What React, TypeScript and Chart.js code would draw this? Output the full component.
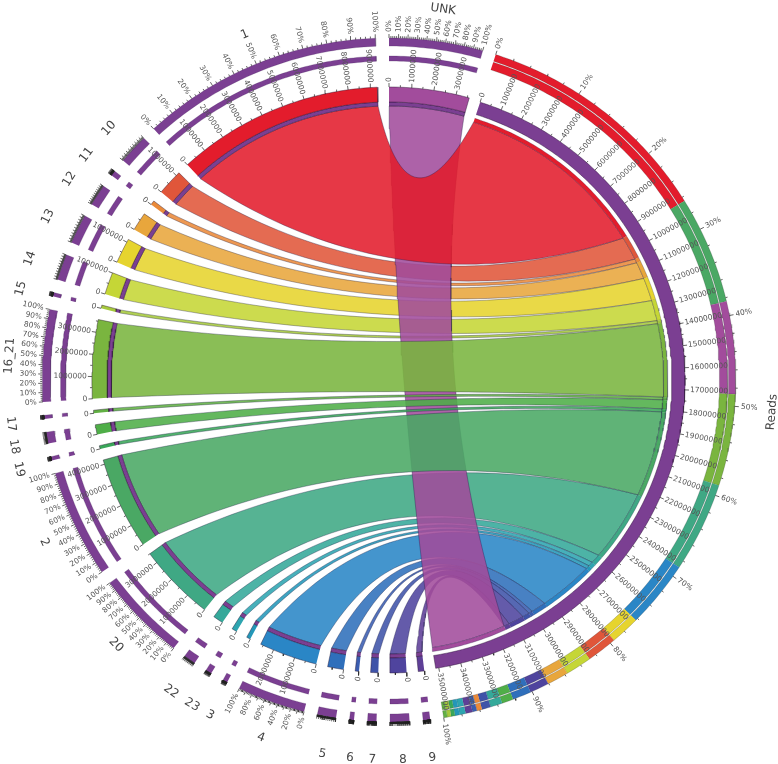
import React, { useEffect, useRef } from "react";
import { Chart, registerables } from "chart.js";

Chart.register(...registerables);

// Sectors clockwise from the top, excluding the big "Reads" sector.
const beforeReads = ["UNK"];
const afterReads = ["9", "8", "7", "6", "5", "4", "3", "23", "22", "20", "2", "19", "18", "17", "16_21", "15", "14", "13", "12", "11", "10", "1"];
const sectorReadCounts: Record<string, number> = {
  UNK: 3600000, "9": 270000, "8": 740000, "7": 340000, "6": 170000, "5": 720000, "4": 2620000,
  "3": 180000, "23": 230000, "22": 460000, "20": 3500000, "2": 4200000, "19": 150000, "18": 440000,
  "17": 140000, "16_21": 3580000, "15": 150000, "14": 1010000, "13": 1140000, "12": 830000,
  "11": 200000, "10": 1170000, "1": 9300000,
};
const sectorColors: Record<string, string> = {
  "1": "#e31c2c", "10": "#e0563a", "11": "#ea8a3a", "12": "#e8a63c", "13": "#e6d42e", "14": "#c5d636",
  "15": "#a5c83c", "16_21": "#7ab53f", "17": "#62b044", "18": "#4fae48", "19": "#3aa659", "2": "#4aa864",
  "20": "#3fa884", "22": "#34a99a", "23": "#2ea5b0", "3": "#2497b8", "4": "#2a86c6", "5": "#2f6fbb",
  "6": "#3a5db0", "7": "#3f53a8", "8": "#4f449e", "9": "#5e3f97", UNK: "#a24c9c",
};
const readsRingOrder = ["1", "2", "UNK", "16_21", "20", "4", "13", "10", "14", "12", "8", "5", "18", "22", "7", "11", "6", "9", "23", "3", "19", "15", "17"];
const ribbonDrawOrder = ["10", "11", "12", "13", "14", "15", "20", "22", "23", "3", "4", "5", "6", "7", "8", "9", "UNK", "17", "18", "19", "1", "16_21", "2"];
const percentLabelSteps: Record<string, number> = { UNK: 10, "1": 10, "16_21": 10, "2": 10, "20": 10, "4": 20, Reads: 10 };

const PURPLE = "#7b3f92";
const GAP = 2.25;
const R = {
  link: 274, linkReads: 271, thinIn: 274, thinOut: 278, bandIn: 278, bandOut: 293,
  ring2In: 319, ring2Out: 324, ring1In: 334, ring1Out: 342,
  rThinOut: 275, rBandIn: 279, rBandOut: 292, rRing2In: 326, rRing2Out: 334, rRing1In: 335, rRing1Out: 342,
  name: 377,
};

type P = { x: number; y: number };
const pt = (deg: number, r: number): P => {
  const a = (deg * Math.PI) / 180;
  return { x: r * Math.sin(a), y: r * Math.cos(a) };
};
const arc = (a: number, b: number, r: number): P[] => {
  const n = Math.max(2, Math.ceil(Math.abs(b - a) * 1.5));
  const out: P[] = [];
  for (let i = 0; i <= n; i++) out.push(pt(a + ((b - a) * i) / n, r));
  return out;
};
const band = (a: number, b: number, r0: number, r1: number): P[] => [...arc(a, b, r1), ...arc(b, a, r0)];
const rgba = (hex: string, al: number) => {
  const n = parseInt(hex.slice(1), 16);
  return `rgba(${n >> 16},${(n >> 8) & 255},${n & 255},${al})`;
};
const curve = (a: number, ra: number, b: number, rb: number): P[] => {
  const p0 = pt(a, ra);
  const p1 = pt(b, rb);
  let span = Math.abs(a - b) % 360;
  if (span > 180) span = 360 - span;
  const c = Math.max(4, 158 - 0.88 * span);
  const mx = p0.x + p1.x;
  const my = p0.y + p1.y;
  const len = Math.hypot(mx, my) || 1;
  const cp = { x: (mx / len) * c, y: (my / len) * c };
  const out: P[] = [];
  for (let i = 0; i <= 48; i++) {
    const t = i / 48;
    const u = 1 - t;
    out.push({ x: u * u * p0.x + 2 * u * t * cp.x + t * t * p1.x, y: u * u * p0.y + 2 * u * t * cp.y + t * t * p1.y });
  }
  return out;
};

function buildChart() {
  const linkOrder = [...afterReads].reverse().concat(beforeReads);
  const readsTotal = linkOrder.reduce((s, k) => s + sectorReadCounts[k], 0);
  const degPerRead = (360 - (afterReads.length + 2) * GAP) / (2 * readsTotal);

  const span: Record<string, [number, number]> = {};
  let cur = 0;
  for (const k of beforeReads) { span[k] = [cur, cur + sectorReadCounts[k] * degPerRead]; cur = span[k][1] + GAP; }
  const readsA = cur;
  const readsB = readsA + readsTotal * degPerRead;
  span.Reads = [readsA, readsB];
  cur = readsB + GAP;
  for (const k of afterReads) { span[k] = [cur, cur + sectorReadCounts[k] * degPerRead]; cur = span[k][1] + GAP; }

  const datasets: any[] = [];
  const poly = (data: P[], fill: string, border: string, bw: number) =>
    datasets.push({ data, showLine: true, fill: "shape", backgroundColor: fill, borderColor: border, borderWidth: bw, pointRadius: 0, tension: 0, clip: false, order: -datasets.length });
  const lines = (data: P[], color: string, bw: number) =>
    datasets.push({ data, showLine: true, fill: false, borderColor: color, borderWidth: bw, pointRadius: 0, tension: 0, spanGaps: false, clip: false, order: -datasets.length });

  // Reads-side position of each link
  const readsPos: Record<string, [number, number]> = {};
  let pos = readsA;
  for (const k of linkOrder) { const d = sectorReadCounts[k] * degPerRead; readsPos[k] = [pos, pos + d]; pos += d; }

  for (const k of ribbonDrawOrder) {
    const [a1, a2] = span[k];
    const [b1, b2] = readsPos[k];
    const shape = [...arc(a1, a2, R.link), ...curve(a2, R.link, b1, R.linkReads), ...arc(b1, b2, R.linkReads), ...curve(b2, R.linkReads, a1, R.link)];
    poly(shape, rgba(sectorColors[k], 0.88), "rgba(20,20,60,0.55)", 0.6);
  }

  const dark = "rgba(30,10,40,0.8)";
  const labels: { text: string; deg: number; r: number; font: string; color: string; name?: boolean }[] = [];
  const tickLabelFont = "7.5px 'DejaVu Sans'";
  const tickColor = "#555";
  const majorTicks: P[] = [];
  const gapPt = { x: NaN, y: NaN };
  const tick = (deg: number, r0: number, r1: number) => { majorTicks.push(pt(deg, r0), pt(deg, r1), gapPt); };

  const addScale = (name: string, total: number, bandOut: number, ringOut: number) => {
    const [a] = span[name];
    for (let v = 0; v <= total; v += 500000) {
      const deg = a + v * degPerRead;
      const major = v % 1000000 === 0;
      tick(deg, bandOut, bandOut + (major ? 4 : 2));
      if (major) labels.push({ text: String(v), deg, r: bandOut + 5, font: tickLabelFont, color: tickColor });
    }
    const step = percentLabelSteps[name] || 0;
    for (let p = 0; p <= 100; p += 2) {
      const deg = a + ((total * p) / 100) * degPerRead;
      const major = p % 10 === 0;
      tick(deg, ringOut, ringOut + (major ? 4 : 2));
      if (step && p % step === 0) labels.push({ text: `${p}%`, deg, r: ringOut + 6, font: tickLabelFont, color: tickColor });
    }
  };

  // ordinary sectors
  for (const k of [...beforeReads, ...afterReads]) {
    const [a, b] = span[k];
    poly(band(a, b, R.thinIn, R.thinOut), PURPLE, dark, 0.5);
    poly(band(a, b, R.bandIn, R.bandOut), sectorColors[k], dark, 0.5);
    poly(band(a, b, R.ring2In, R.ring2Out), PURPLE, "rgba(60,30,80,0.6)", 0.4);
    poly(band(a, b, R.ring1In, R.ring1Out), PURPLE, "rgba(60,30,80,0.6)", 0.4);
    addScale(k, sectorReadCounts[k], R.bandOut, R.ring1Out);
    labels.push({ text: k, deg: (a + b) / 2, r: R.name, font: "12px 'DejaVu Sans'", color: "#444", name: true });
  }

  // Reads sector
  poly(band(readsA, readsB, R.rBandIn, R.rBandOut), PURPLE, dark, 0.5);
  for (const k of linkOrder) {
    const [b1, b2] = readsPos[k];
    poly(band(b1, b2, R.linkReads, R.rThinOut), sectorColors[k], "rgba(20,20,60,0.6)", 0.4);
  }
  let rp = readsA;
  for (const k of readsRingOrder) {
    const d = sectorReadCounts[k] * degPerRead;
    poly(band(rp, rp + d, R.rRing2In, R.rRing2Out), sectorColors[k], "rgba(30,30,30,0.5)", 0.4);
    poly(band(rp, rp + d, R.rRing1In, R.rRing1Out), sectorColors[k], "rgba(30,30,30,0.5)", 0.4);
    rp += d;
  }
  addScale("Reads", readsTotal, R.rBandOut, R.rRing1Out);
  labels.push({ text: "Reads", deg: (readsA + readsB) / 2, r: R.name, font: "12px 'DejaVu Sans'", color: "#444", name: true });

  lines(majorTicks, "#222", 0.7);

  const labelPlugin = {
    id: "circosLabels",
    afterDatasetsDraw(chart: any) {
      const { ctx, scales } = chart;
      for (const l of labels) {
        const p = pt(l.deg, l.r);
        const px = scales.x.getPixelForValue(p.x) + (l.name ? 2 : 0);
        const py = scales.y.getPixelForValue(p.y) + (l.name ? 3 : 0);
        const d = ((l.deg % 360) + 360) % 360;
        ctx.save();
        ctx.translate(px, py);
        ctx.font = l.font;
        ctx.fillStyle = l.color;
        ctx.textBaseline = "middle";
        if (l.name) {
          ctx.textAlign = "center";
          const rot = d > 90 && d < 270 ? d - 180 : d;
          ctx.rotate((rot * Math.PI) / 180);
        } else if (d < 180) {
          ctx.textAlign = "left";
          ctx.rotate(((d - 90) * Math.PI) / 180);
        } else {
          ctx.textAlign = "right";
          ctx.rotate(((d + 90) * Math.PI) / 180);
        }
        ctx.fillText(l.text, 0, 0);
        ctx.restore();
      }
    },
  };

  return { datasets, labelPlugin };
}

export default function App() {
  const ref = useRef<HTMLCanvasElement>(null);
  useEffect(() => {
    const { datasets, labelPlugin } = buildChart();
    const sx = 389 / 1.014;
    const chart = new Chart(ref.current as HTMLCanvasElement, {
      type: "scatter",
      data: { datasets },
      plugins: [labelPlugin],
      options: {
        animation: false,
        responsive: false,
        devicePixelRatio: 1,
        layout: { padding: 0 },
        plugins: { legend: { display: false }, tooltip: { enabled: false }, title: { display: false } },
        scales: {
          x: { type: "linear", display: false, min: -sx, max: sx },
          y: { type: "linear", display: false, min: -384, max: 380 },
        },
      },
    } as any);
    return () => chart.destroy();
  }, []);
  return <canvas ref={ref} width={778} height={764} style={{ position: "fixed", left: 0, top: 0, display: "block" }} />;
}
